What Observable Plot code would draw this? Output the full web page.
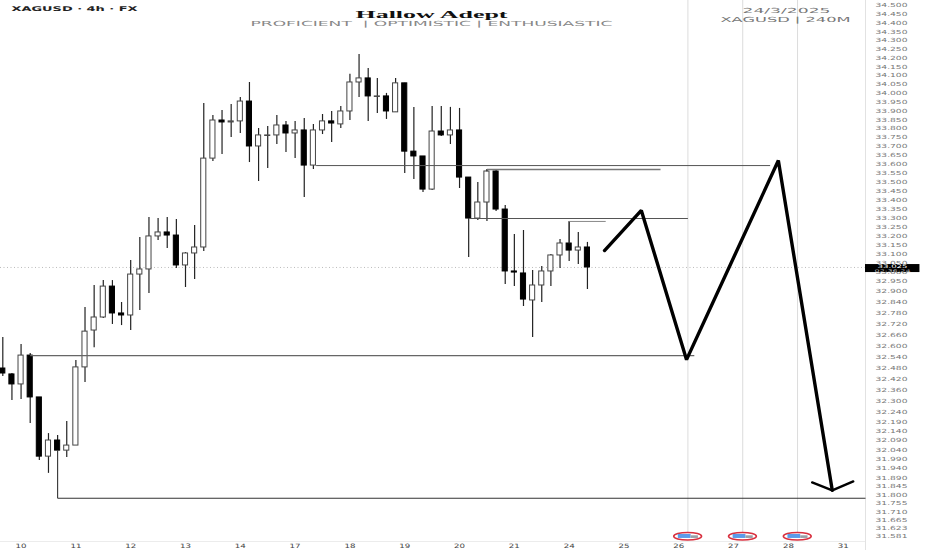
<!DOCTYPE html>
<html>
<head>
<meta charset="utf-8">
<script src="https://cdn.jsdelivr.net/npm/d3@7"></script>
<script src="https://cdn.jsdelivr.net/npm/@observablehq/plot@0.6"></script>
<style>html,body{margin:0;padding:0;background:#fff}svg{display:block}</style>
</head>
<body>
<div id="chart"></div>
<script>
const opens=[32.477,32.445,32.391,32.547,32.321,32.004,32.090,32.036,32.063,32.483,32.683,32.754,32.923,32.776,32.765,32.989,33.017,33.199,33.221,33.204,33.039,33.105,33.138,33.632,33.846,33.835,33.841,33.953,33.700,33.759,33.762,33.818,33.773,33.790,33.593,33.790,33.841,33.824,33.897,34.061,34.084,33.979,33.982,33.892,34.056,33.671,33.644,33.459,33.784,33.762,33.790,33.526,33.298,33.387,33.560,33.348,33.006,32.995,32.847,32.929,33.006,33.094,33.160,33.121,33.138];
const highs=[32.645,32.450,32.607,32.558,32.321,32.127,32.117,32.192,32.520,32.809,32.929,32.956,32.956,32.836,33.066,33.193,33.304,33.298,33.304,33.293,33.110,33.260,33.942,33.874,33.903,33.936,33.976,34.061,33.801,33.812,33.874,33.841,33.841,33.858,33.824,33.880,33.897,33.925,34.107,34.220,34.141,34.084,33.999,34.084,34.056,33.920,33.644,33.925,33.925,33.920,33.914,33.526,33.498,33.571,33.565,33.370,33.210,33.232,33.011,33.033,33.099,33.182,33.282,33.221,33.166];
const lows=[32.434,32.305,32.310,32.181,31.983,31.915,32.036,31.999,32.063,32.402,32.590,32.749,32.716,32.710,32.683,32.792,32.885,33.177,33.132,33.022,32.918,32.962,33.116,33.616,33.655,33.750,33.773,33.610,33.504,33.577,33.711,33.666,33.632,33.415,33.571,33.767,33.722,33.801,33.846,33.976,33.841,33.886,33.852,33.892,33.549,33.515,33.443,33.454,33.756,33.711,33.465,33.083,33.287,33.282,33.337,32.934,32.923,32.814,32.645,32.836,32.923,33.022,33.061,33.044,32.907];
const closes=[32.450,32.391,32.547,32.321,32.004,32.090,32.036,32.063,32.483,32.677,32.754,32.923,32.776,32.765,32.989,33.017,33.199,33.221,33.204,33.039,33.105,33.138,33.632,33.846,33.835,33.841,33.953,33.700,33.762,33.762,33.818,33.773,33.790,33.593,33.790,33.841,33.829,33.897,34.061,34.084,33.982,33.982,33.897,34.056,33.671,33.644,33.459,33.784,33.762,33.790,33.526,33.298,33.387,33.560,33.348,33.006,33.000,32.852,32.929,33.006,33.094,33.160,33.121,33.138,33.028];

const priceTicks=[34.5,34.45,34.4,34.35,34.3,34.25,34.2,34.15,34.1,34.05,34,33.95,33.9,33.85,33.8,33.75,33.7,33.65,33.6,33.55,33.5,33.45,33.4,33.35,33.3,33.25,33.2,33.15,33.1,33.05,33,32.95,32.9,32.84,32.78,32.72,32.66,32.6,32.54,32.48,32.42,32.36,32.3,32.24,32.19,32.14,32.09,32.04,31.99,31.94,31.89,31.845,31.8,31.755,31.71,31.665,31.623,31.581];
const dayPositions=[2,8,14,20,26,32,38,44,50,56,62,68,74,80,86,92];
const dayLabels=["10","11","12","13","14","17","18","19","20","21","24","25","26","27","28","31"];

const levelStart=[3,6,34.3,53,51,62];
const levelEnd=[75.7,94.44,84,72,75,66];
const levelPrice=[32.547,31.783,33.593,33.571,33.298,33.282];
const levelWidth=[1.4,1.2,1,1.3,1.1,1];
const levelColor=["#666","#333","#555","#777","#555","#888"];

const connectorX=[6,53,62];
const connectorTop=[32.036,33.571,33.282];
const connectorBottom=[31.783,33.560,33.160];

const pathX=[65.87,69.9,74.85,84.9,90.8];
const pathY=[33.121,33.343,32.525,33.621,31.825];
const arrowX=[88.6,90.8,93.1];
const arrowY=[31.867,31.825,31.872];

const eventDays=[75,81,87];
const lastPrice=33.028;

const candles=opens.map((o,i)=>({i,open:o,high:highs[i],low:lows[i],close:closes[i],down:closes[i]<o}));
const levels=levelPrice.map((p,k)=>({x1:levelStart[k],x2:levelEnd[k],p,w:levelWidth[k],c:levelColor[k]}));
const path=pathX.map((x,k)=>({x,y:pathY[k]}));
const arrow=arrowX.map((x,k)=>({x,y:arrowY[k]}));
const connectors=connectorX.map((x,k)=>({x,y1:connectorTop[k],y2:connectorBottom[k]}));

const wide='"DejaVu Sans",sans-serif';
const plot=Plot.plot({
  width:932,height:550,
  marginLeft:0,marginRight:67,marginTop:0,marginBottom:9,
  style:{background:"#fff",overflow:"visible",fontFamily:wide},
  x:{type:"linear",domain:[-0.252,94.44]},
  y:{type:"log",domain:[31.555,34.529],range:[541,0]},
  marks:[
    Plot.ruleX(eventDays,{x:d=>d,y1:34.529,y2:31.6,stroke:"#dcdcdc",strokeWidth:1}),
    Plot.ruleX([94.44],{stroke:"#e2e2e2",strokeWidth:1,insetBottom:-9}),
    Plot.ruleY([31.555],{stroke:"#ececec",strokeWidth:1}),
    Plot.axisX(dayPositions,{anchor:"bottom",tickSize:0,tickPadding:2,fontSize:6,fill:"#444",
      tickFormat:d=>dayLabels[dayPositions.indexOf(d)],className:"xt"}),
    Plot.axisY(priceTicks,{anchor:"right",tickSize:0,tickPadding:10,fontSize:5.6,fill:"#777",
      tickFormat:d=>d.toFixed(3),className:"yt"}),
    Plot.ruleY([lastPrice],{stroke:"#aaa",strokeWidth:0.8,strokeDasharray:"1,2.5"}),
    Plot.ruleX(candles,{x:"i",y1:"low",y2:"high",stroke:"#222",strokeWidth:1.2}),
    Plot.rect(candles,{x1:d=>d.i-0.28,x2:d=>d.i+0.28,y1:"open",y2:"close",
      fill:d=>d.down?"#000":"#fff",stroke:d=>d.down?"#000":"#444",strokeWidth:1}),
    Plot.link(connectors,{x1:"x",x2:"x",y1:"y1",y2:"y2",stroke:"#333",strokeWidth:1.1}),
    Plot.link(levels,{x1:"x1",x2:"x2",y1:"p",y2:"p",stroke:d=>d.c,strokeWidth:d=>d.w}),
    Plot.line(path,{x:"x",y:"y",stroke:"#000",strokeWidth:3.4,curve:"linear",strokeLinejoin:"miter"}),
    Plot.line(arrow,{x:"x",y:"y",stroke:"#000",strokeWidth:2.4,curve:"linear"}),
    Plot.rect(eventDays,{x1:d=>d-1.5,x2:d=>d+1.55,y1:31.6,y2:31.56,fill:"#fff",stroke:"#d8303f",strokeWidth:1.6,rx:15,ry:5}),
    Plot.rect(eventDays,{x1:d=>d-1.05,x2:d=>d+0.35,y1:31.592,y2:31.571,fill:"#5b9bea"}),
    Plot.rect(eventDays,{x1:d=>d+0.35,x2:d=>d+1.15,y1:31.585,y2:31.571,fill:"#9aa0a8"}),
    Plot.rect([0],{x1:94.44,x2:100.4,y1:33.0,y2:33.044,fill:"#000"}),
    Plot.text(["33.025"],{x:97.4,y:33.033,fill:"#fff",fontSize:5,className:"lastp"}),
    Plot.text(["02:36:24"],{x:97.4,y:33.01,fill:"#bbb",fontSize:3.6,className:"lastt"}),
    Plot.text(["XAGUSD · 4h · FX"],{frameAnchor:"top-left",dx:11,dy:6,textAnchor:"start",fontSize:6.5,fontWeight:"bold",fill:"#222",className:"t1"}),
    Plot.text(["Hallow Adept"],{frameAnchor:"top-left",dx:355,dy:10,textAnchor:"start",fontFamily:'"Liberation Serif",serif',fontSize:10,fontWeight:"bold",fill:"#111",className:"t2"}),
    Plot.text(["PROFICIENT  | OPTIMISTIC | ENTHUSIASTIC"],{frameAnchor:"top-left",dx:250,dy:21,textAnchor:"start",fontSize:7,fill:"#888",className:"t3"}),
    Plot.text(["24/3/2025"],{frameAnchor:"top-left",dx:742,dy:8,textAnchor:"start",fontSize:7,fill:"#777",className:"t4"}),
    Plot.text(["XAGUSD | 240M"],{frameAnchor:"top-left",dx:720,dy:17,textAnchor:"start",fontSize:7,fill:"#777",className:"t5"})
  ]
});
document.getElementById("chart").append(plot);
const fit=(sel,len)=>{d3.select(plot).selectAll(sel).attr("textLength",len).attr("lengthAdjust","spacingAndGlyphs");};
fit(".yt text",32);fit(".t1 text",126);fit(".t2 text",152);fit(".t3 text",362);fit(".t4 text",88);fit(".t5 text",130);fit(".lastp text",30);fit(".lastt text",36);fit(".xt text",11);
</script>
</body>
</html>
